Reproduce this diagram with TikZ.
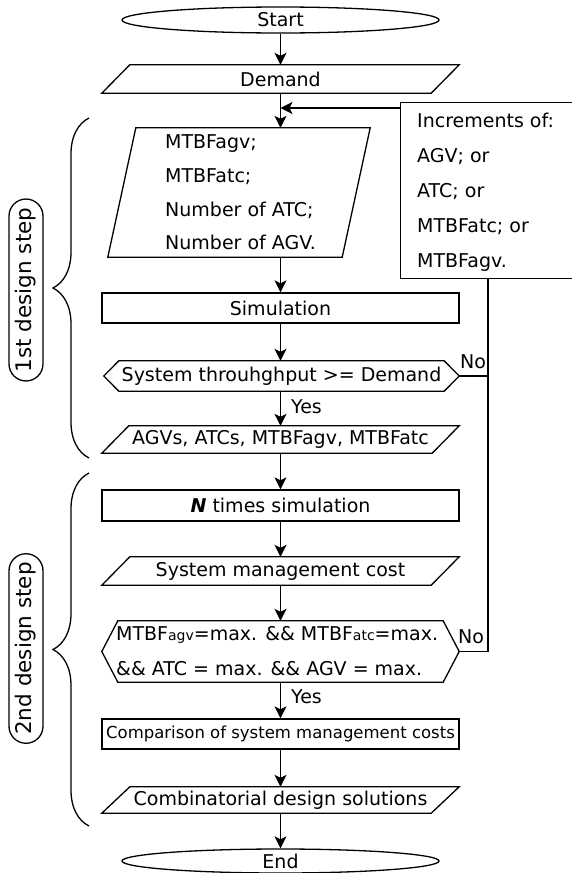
\documentclass[tikz,border=0pt]{standalone}
\usepackage{fontspec}
\setmainfont{DejaVu Sans}
\usetikzlibrary{shapes.geometric,shapes.misc,arrows.meta,calc,decorations.pathreplacing}

% parallelogram drawn over a rectangular node: #1 node, #2 horizontal skew
\newcommand{\drawpara}[2]{%
  \draw[outline] (#1.south west) -- ($(#1.north west)+(#2,0)$) -- (#1.north east)
    -- ($(#1.south east)+(-#2,0)$) -- cycle;}
% hexagonal decision box: #1 node, #2 indent of the pointed ends
\newcommand{\drawhex}[2]{%
  \draw[outline] (#1.west) -- ($(#1.north west)+(#2,0)$) -- ($(#1.north east)+(-#2,0)$)
    -- (#1.east) -- ($(#1.south east)+(-#2,0)$) -- ($(#1.south west)+(#2,0)$) -- cycle;}

\begin{document}
\begin{tikzpicture}[x=1pt,y=-1pt,
  outline/.style={line width=1.3pt, line join=miter},
  link/.style={line width=1.3pt},
  flow/.style={line width=1.3pt, -{Stealth[length=12pt,width=12pt,inset=3pt]}},
  base/.style={inner sep=0pt, font=\fontsize{19}{23}\selectfont},
  frame/.style={base, minimum width=357pt},
  procbox/.style={frame, draw, line width=1.3pt},
  terminal/.style={base, draw, line width=1.3pt, ellipse, minimum width=317pt},
  label/.style={base, anchor=west},
  listtext/.style={base, align=left},
  pill/.style={draw, line width=1.3pt, rounded rectangle, inner xsep=5pt, inner ysep=0pt,
    minimum width=180pt, minimum height=34pt, rotate=90, font=\fontsize{21.5}{24}\selectfont},
  stepbrace/.style={line width=1.3pt, decorate, decoration={brace, amplitude=36pt}}
]
\useasboundingbox (0,0) rectangle (571,873);

% main column
\node[terminal, minimum height=26pt] (start) at (280.5,20) {Start};
\node[frame, minimum height=28pt] (demand) at (280.5,79) {Demand};
\node[base, minimum width=262pt, minimum height=129pt] (input) at (239,192.5) {};
\node[listtext, anchor=west, font=\fontsize{19}{33.7}\selectfont] (inputtext) at (165,192.5)
  {MTBFagv;\\MTBFatc;\\Number of ATC;\\Number of AGV.};
\node[procbox, minimum height=30pt] (sim) at (280.5,308) {Simulation};
\node[base, minimum width=355pt, minimum height=30pt] (dec1) at (281.5,376) {System throuhghput >= Demand};
\node[frame, minimum height=27pt] (agvs) at (280.5,439.5) {AGVs, ATCs, MTBFagv, MTBFatc};
\node[procbox, minimum height=31pt] (ntimes) at (280.5,505.5) {\textbf{\textit{N}} times simulation};
\node[frame, minimum height=28pt] (smc) at (280.5,571) {System management cost};
\node[frame, minimum height=61pt] (dec2) at (280.5,651.5) {};
\node[listtext, anchor=west, font=\fontsize{19}{35}\selectfont] (dec2text) at (116,651.5)
  {MTBF{\fontsize{14}{14}\selectfont agv}=max. \&\& MTBF{\fontsize{14}{14}\selectfont atc}=max.\\
   \&\& ATC = max. \&\& AGV = max.};
\node[procbox, minimum height=30pt, font=\fontsize{16.5}{20}\selectfont] (comp) at (280.5,734)
  {Comparison of system management costs};
\node[frame, minimum height=26pt] (comb) at (280.5,800) {Combinatorial design solutions};
\node[terminal, minimum height=24pt] (end) at (280.5,861) {End};

\drawpara{demand}{28}
\drawpara{input}{28}
\drawhex{dec1}{15}
\drawpara{agvs}{27}
\drawpara{smc}{28}
\drawhex{dec2}{16}
\drawpara{comb}{28}

% increments box (runs past the right edge)
\node[draw, line width=1.3pt, anchor=north west, minimum width=190pt, minimum height=176pt,
  inner sep=0pt] (inc) at (400,102) {};
\node[listtext, anchor=west, font=\fontsize{19}{35}\selectfont] (inctext) at (417,192)
  {Increments of:\\AGV; or\\ATC; or\\MTBFatc; or\\MTBFagv.};

% connectors
\draw[flow] (start) -- (demand);
\draw[flow] (demand) -- (demand |- input.north);
\draw[flow] (demand |- input.south) -- (sim);
\draw[flow] (sim) -- (sim |- dec1.north);
\draw[flow] (sim |- dec1.south) -- (agvs);
\draw[flow] (agvs) -- (ntimes);
\draw[flow] (ntimes) -- (smc);
\draw[flow] (smc) -- (dec2);
\draw[flow] (dec2) -- (comp);
\draw[flow] (comp) -- (comb);
\draw[flow] (comb) -- (end);

\coordinate (fb) at (280.5,108);
\coordinate (rx) at (488,0);
\draw[flow] (fb -| inc.west) -- (fb);
\draw[link] (dec1.east) -- (dec1.east -| rx);
\draw[link] (dec2.east) -| (rx |- inc.south);

% branch labels
\node[label] (yes1) at (291,407) {Yes};
\node[label] (no1) at (460,362) {No};
\node[label] (yes2) at (291,697) {Yes};
\node[label] (no2) at (458,637) {No};

% design step groups
\draw[stepbrace] (89,458) -- (89,118);
\draw[stepbrace] (89,826) -- (89,473);
\node[pill] (step1) at (26,290) {1st design step};
\node[pill] (step2) at (26,648.5) {2nd design step};
\end{tikzpicture}
\end{document}
